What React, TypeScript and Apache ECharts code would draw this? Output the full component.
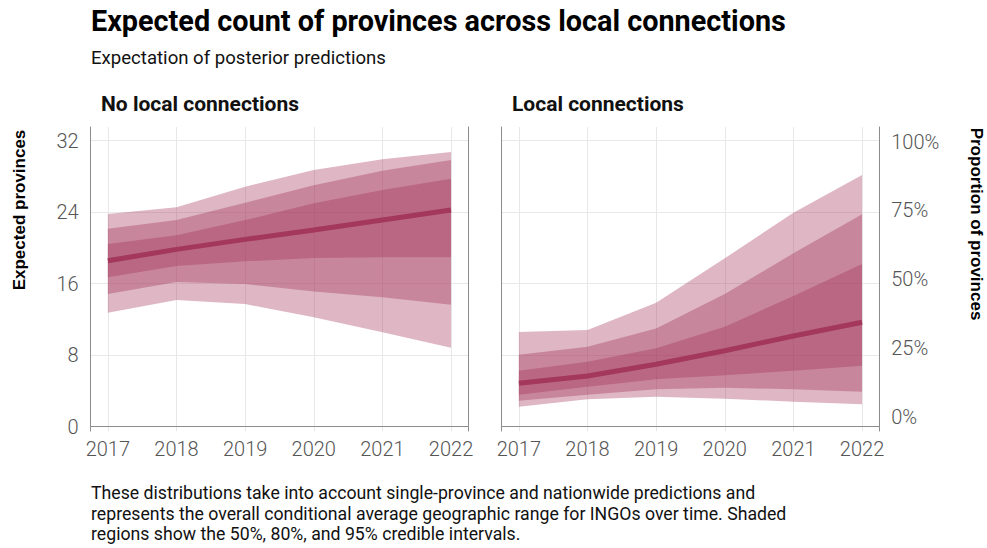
import React, { useEffect, useRef } from "react";
import * as echarts from "echarts";

const years = [2017, 2018, 2019, 2020, 2021, 2022];
const countTicks = [0, 8, 16, 24, 32];
const percentTicks = [0, 25, 50, 75, 100];

// Panel 1: No local connections
const noMedian = [18.57, 19.84, 20.96, 22.0, 23.12, 24.24];
const noLo50 = [16.71, 17.98, 18.5, 18.87, 18.95, 18.95];
const noHi50 = [20.44, 21.41, 23.12, 24.99, 26.48, 27.74];
const noLo80 = [14.84, 16.19, 15.96, 15.14, 14.47, 13.65];
const noHi80 = [22.15, 23.12, 25.06, 27.0, 28.64, 29.83];
const noLo95 = [12.75, 14.17, 13.72, 12.24, 10.56, 8.84];
const noHi95 = [23.79, 24.54, 26.85, 28.71, 29.91, 30.73];

// Panel 2: Local connections
const locMedian = [4.85, 5.67, 6.98, 8.5, 10.15, 11.68];
const locLo50 = [3.58, 4.47, 5.3, 5.75, 6.26, 6.82];
const locHi50 = [6.26, 7.27, 8.77, 11.19, 14.62, 18.2];
const locLo80 = [2.91, 3.58, 4.18, 4.36, 4.18, 3.91];
const locHi80 = [8.05, 8.95, 11.0, 14.84, 19.4, 23.76];
const locLo95 = [2.24, 3.06, 3.36, 3.13, 2.8, 2.5];
const locHi95 = [10.59, 10.82, 13.87, 18.84, 23.94, 28.15];

const ribbonColor = "rgba(160,45,85,0.35)";
const lineColor = "#a3375c";
const gridColor = "#e8e8e8";
const axisColor = "#8c8c8c";
const tickColor = "#555555";

function band(idx: number, yIdx: number, lo: number[], hi: number[]) {
  return {
    type: "custom",
    xAxisIndex: idx,
    yAxisIndex: yIdx,
    data: [[years[0], lo[0]]],
    silent: true,
    z: 2,
    renderItem: (_params: any, api: any) => {
      const upper = years.map((y, i) => api.coord([y, hi[i]]));
      const lower = years.map((y, i) => api.coord([y, lo[i]])).reverse();
      return {
        type: "polygon",
        shape: { points: upper.concat(lower) },
        style: { fill: ribbonColor, stroke: "none" },
      };
    },
  };
}

function median(idx: number, yIdx: number, vals: number[]) {
  return {
    type: "line",
    xAxisIndex: idx,
    yAxisIndex: yIdx,
    data: years.map((y, i) => [y, vals[i]]),
    symbol: "none",
    lineStyle: { width: 5, color: lineColor, cap: "butt" },
    silent: true,
    z: 3,
  };
}

const GRID_TOP = 127;
const GRID_H = 304;
const GRID_W = 377.5;

function xAxis(gridIndex: number) {
  return {
    type: "value",
    gridIndex,
    min: 2016.75,
    max: 2022.25,
    axisLine: { show: true, lineStyle: { color: axisColor, width: 1 } },
    axisTick: { show: false, customValues: years },
    axisLabel: {
      customValues: years,
      formatter: (v: number) => String(v),
      color: tickColor,
      fontSize: 20,
      fontFamily: "Roboto",
      fontWeight: 300,
      margin: 8,
    },
    splitLine: { show: true, lineStyle: { color: gridColor, width: 1 } },
  };
}

function countAxis(gridIndex: number, position: string, labels: boolean, split: boolean) {
  return {
    type: "value",
    gridIndex,
    position,
    min: -0.48,
    max: 33.53,
    axisLine: { show: true, lineStyle: { color: axisColor, width: 1 } },
    axisTick: { show: false, customValues: countTicks },
    axisLabel: {
      show: labels,
      customValues: countTicks,
      color: tickColor,
      fontSize: 20,
      fontFamily: "Roboto",
      fontWeight: 300,
      margin: 12,
    },
    splitLine: { show: split, lineStyle: { color: gridColor, width: 1 } },
  };
}

export default function App() {
  const ref = useRef<HTMLDivElement>(null);
  useEffect(() => {
    if (!ref.current) return;
    const chart = echarts.init(ref.current, null, { renderer: "svg" });
    const option = {
      animation: false,
      backgroundColor: "#ffffff",
      grid: [
        { left: 90.7, top: GRID_TOP, width: GRID_W, height: GRID_H },
        { left: 501.7, top: GRID_TOP, width: GRID_W, height: GRID_H },
      ],
      xAxis: [xAxis(0), xAxis(1)],
      yAxis: [
        countAxis(0, "left", true, true),
        countAxis(0, "right", false, false),
        countAxis(1, "left", false, true),
        {
          type: "value",
          gridIndex: 1,
          position: "right",
          min: -5.2,
          max: 105.35,
          axisLine: { show: true, lineStyle: { color: axisColor, width: 1 } },
          axisTick: { show: false, customValues: percentTicks },
          axisLabel: {
            customValues: percentTicks,
            formatter: (v: number) => v + "%",
            color: tickColor,
            fontSize: 20,
            fontFamily: "Roboto",
            fontWeight: 300,
            margin: 12,
          },
          splitLine: { show: false },
        },
      ],
      series: [
        band(0, 0, noLo95, noHi95),
        band(0, 0, noLo80, noHi80),
        band(0, 0, noLo50, noHi50),
        median(0, 0, noMedian),
        band(1, 2, locLo95, locHi95),
        band(1, 2, locLo80, locHi80),
        band(1, 2, locLo50, locHi50),
        median(1, 2, locMedian),
      ],
      graphic: [
        {
          type: "text",
          x: 91,
          y: 21,
          style: {
            text: "Expected count of provinces across local connections",
            font: "bold 28.8px Roboto",
            fill: "#000000",
            verticalAlign: "middle",
            align: "left",
          },
        },
        {
          type: "text",
          x: 91,
          y: 58,
          style: {
            text: "Expectation of posterior predictions",
            font: "18.6px Roboto",
            fill: "#111111",
            verticalAlign: "middle",
            align: "left",
          },
        },
        {
          type: "text",
          x: 101,
          y: 104,
          style: {
            text: "No local connections",
            font: "bold 21px Roboto",
            fill: "#111111",
            verticalAlign: "middle",
            align: "left",
          },
        },
        {
          type: "text",
          x: 512,
          y: 104,
          style: {
            text: "Local connections",
            font: "bold 21px Roboto",
            fill: "#111111",
            verticalAlign: "middle",
            align: "left",
          },
        },
        {
          type: "text",
          x: 19,
          y: 210,
          rotation: Math.PI / 2,
          style: {
            text: "Expected provinces",
            font: "bold 17px 'Liberation Sans'",
            fill: "#000000",
            verticalAlign: "middle",
            align: "center",
          },
        },
        {
          type: "text",
          x: 976,
          y: 224,
          rotation: -Math.PI / 2,
          style: {
            text: "Proportion of provinces",
            font: "bold 17px 'Liberation Sans'",
            fill: "#000000",
            verticalAlign: "middle",
            align: "center",
          },
        },
        {
          type: "text",
          x: 91,
          y: 483,
          style: {
            text:
              "These distributions take into account single-province and nationwide predictions and\nrepresents the overall conditional average geographic range for INGOs over time. Shaded\nregions show the 50%, 80%, and 95% credible intervals.",
            font: "17.7px Roboto",
            lineHeight: 20.5,
            fill: "#111111",
            verticalAlign: "top",
            align: "left",
          },
        },
      ],
    };
    chart.setOption(option as any);
    return () => chart.dispose();
  }, []);
  return (
    <div
      ref={ref}
      style={{ position: "fixed", left: 0, top: 0, width: 987, height: 548, background: "#fff" }}
    />
  );
}
